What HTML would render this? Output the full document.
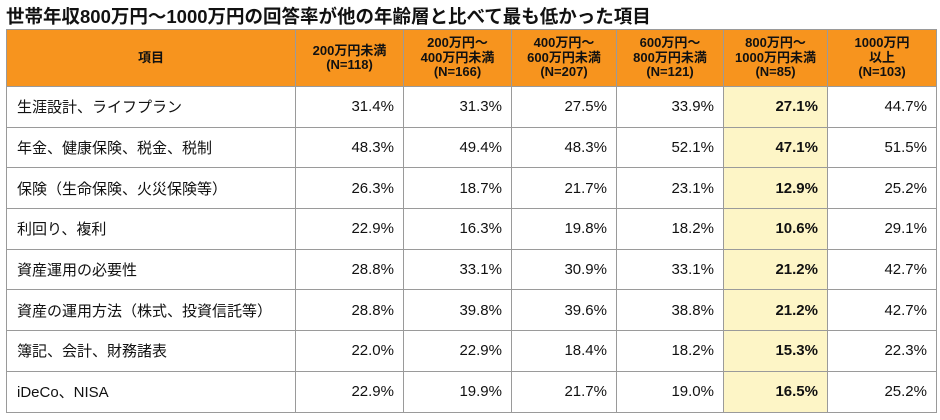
<html><head><meta charset="utf-8"><style>
body{margin:0;width:940px;height:420px;background:#fff;font-family:"Liberation Sans","Noto Sans CJK JP",sans-serif;overflow:hidden}
h1{position:absolute;left:6px;top:3px;margin:0;font-size:18.5px;font-weight:bold;color:#111;white-space:nowrap}
table{position:absolute;left:6px;top:29px;border-collapse:collapse;table-layout:fixed}
td,th{border:1.5px solid #9a9a9a;padding:0;font-size:15px;color:#111}
th{background:#f7941e;font-size:13px;font-weight:bold;line-height:14.5px;height:57px;text-align:center}
td{height:40.7px;text-align:right;padding-right:9px}
td.l{text-align:left;padding-left:10px;padding-right:0}
td.h{background:#fdf5c6;font-weight:bold}
</style></head><body>
<h1>世帯年収800万円～1000万円の回答率が他の年齢層と比べて最も低かった項目</h1>
<table>
<colgroup><col style="width:289px"><col style="width:108px"><col style="width:108px"><col style="width:105px"><col style="width:107px"><col style="width:104px"><col style="width:109px"></colgroup>
<thead><tr>
<th>項目</th>
<th>200万円未満<br>(N=118)</th>
<th>200万円～<br>400万円未満<br>(N=166)</th>
<th>400万円～<br>600万円未満<br>(N=207)</th>
<th>600万円～<br>800万円未満<br>(N=121)</th>
<th>800万円～<br>1000万円未満<br>(N=85)</th>
<th>1000万円<br>以上<br>(N=103)</th>
</tr></thead>
<tbody id="tb"></tbody></table>
<script>
const items=["生涯設計、ライフプラン","年金、健康保険、税金、税制","保険（生命保険、火災保険等）","利回り、複利","資産運用の必要性","資産の運用方法（株式、投資信託等）","簿記、会計、財務諸表","iDeCo、NISA"];
const under200=[31.4,48.3,26.3,22.9,28.8,28.8,22.0,22.9];
const r200_400=[31.3,49.4,18.7,16.3,33.1,39.8,22.9,19.9];
const r400_600=[27.5,48.3,21.7,19.8,30.9,39.6,18.4,21.7];
const r600_800=[33.9,52.1,23.1,18.2,33.1,38.8,18.2,19.0];
const r800_1000=[27.1,47.1,12.9,10.6,21.2,21.2,15.3,16.5];
const over1000=[44.7,51.5,25.2,29.1,42.7,42.7,22.3,25.2];
const series=[under200,r200_400,r400_600,r600_800,r800_1000,over1000];
const tb=document.getElementById('tb');
items.forEach((it,i)=>{
 const tr=document.createElement('tr');
 
 
 const td=document.createElement('td');td.className='l';td.textContent=it;
 
 
 tr.appendChild(td);
 series.forEach((s,j)=>{
  const c=document.createElement('td');
  if(j===4)c.className='h';
  c.textContent=s[i].toFixed(1)+'%';
  
  
  tr.appendChild(c);
 });
 tb.appendChild(tr);
});
</script>
</body></html>
